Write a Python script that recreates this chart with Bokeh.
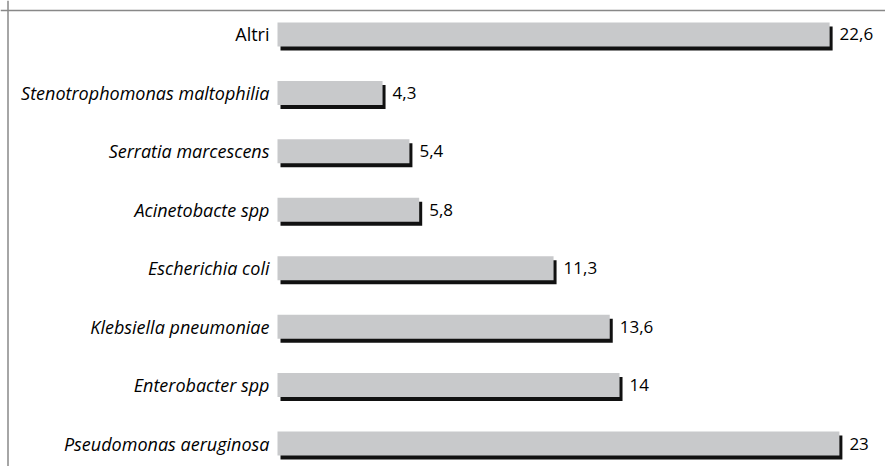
from bokeh.plotting import figure
from bokeh.models import ColumnDataSource, Span
from bokeh.core.properties import value
from bokeh.embed import file_html
from bokeh.resources import INLINE

# Data (bottom to top)
categories = ["Pseudomonas aeruginosa", "Enterobacter spp", "Klebsiella pneumoniae",
              "Escherichia coli", "Acinetobacte spp", "Serratia marcescens",
              "Stenotrophomonas maltophilia", "Altri"]
values = [23, 14, 13.6, 11.3, 5.8, 5.4, 4.3, 22.6]
value_labels = ["23", "14", "13,6", "11,3", "5,8", "5,4", "4,3", "22,6"]
label_styles = ["italic"] * 7 + ["normal"]

W, H = 885, 466
PX_X = 24.43   # px per x unit
PX_Y = 58.43   # px per row
x0_px = 277    # canvas px of value 0
y0_px = 443    # canvas px (from top) of first row centre

x_start = -x0_px / PX_X
x_end = (W - x0_px) / PX_X
y_end = y0_px / PX_Y
y_start = -(H - y0_px) / PX_Y

p = figure(width=W, height=H, x_range=(x_start, x_end), y_range=(y_start, y_end),
           output_backend="svg", toolbar_location=None,
           min_border=0, min_border_left=0, min_border_right=0,
           min_border_top=0, min_border_bottom=0)
p.axis.visible = False
p.grid.visible = False
p.outline_line_color = None
p.background_fill_color = "white"

ys = list(range(len(categories)))
bar_h = 24 / PX_Y
dx = 3 / PX_X
dy = 4 / PX_Y

src = ColumnDataSource(dict(
    y=ys, v=values, cat=categories, lab=value_labels, style=label_styles,
    ys=[y - dy for y in ys],
    left_s=[dx] * len(ys),
    right_s=[v + dx for v in values],
    lab_x=[v + 10 / PX_X for v in values],
))

p.hbar(y="ys", left="left_s", right="right_s", height=bar_h, source=src,
       fill_color="#111111", line_color=None)
p.hbar(y="y", left=0, right="v", height=bar_h, source=src,
       fill_color="#c8c9cb", line_color=None)

p.text(x=-8 / PX_X, y="y", text="cat", source=src, text_align="right",
       text_baseline="middle", text_font=value("Open Sans"), text_font_size="18px",
       text_font_style="style", text_color="#000000")
p.text(x="lab_x", y="y", text="lab", source=src, text_align="left",
       text_baseline="middle", text_font=value("Open Sans"), text_font_size="17px",
       text_color="#000000")

# frame lines (top and left)
p.add_layout(Span(location=y_end - 10 / PX_Y, dimension="width",
                  line_color="#888888", line_width=1.5))
p.add_layout(Span(location=x_start + 7.5 / PX_X, dimension="height",
                  line_color="#888888", line_width=1.5))

open("out.html", "w").write(file_html(p, INLINE))
